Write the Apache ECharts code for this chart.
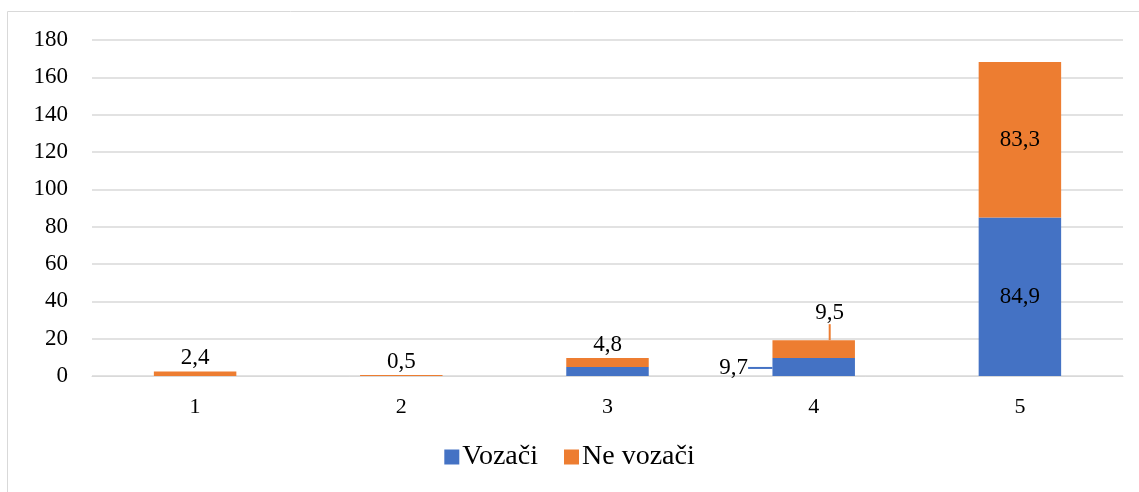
<!DOCTYPE html>
<html lang="hr">
<head>
    <meta charset="UTF-8">
    <title>vozaci</title>
    <style>
        html, body { margin: 0; padding: 0; background: #fff; }
        #main { width: 1139px; height: 492px; }
    </style>
</head>
<body>
    <div id="main"></div>
</body>
<script src="https://cdn.jsdelivr.net/npm/echarts@6/dist/echarts.min.js"></script>
<script>
    var categories = ['1', '2', '3', '4', '5']
    var vozaci = [0, 0, 4.8, 9.7, 84.9]
    var neVozaci = [2.4, 0.5, 4.8, 9.5, 83.3]
    var yTicks = [0, 20, 40, 60, 80, 100, 120, 140, 160, 180]

    var font = '"Liberation Serif", "Times New Roman", serif'
    function fmt(p) { return String(p.value).replace('.', ',') }

    var main = echarts.init(document.getElementById('main'))

    var blueData = vozaci.map(function (v, i) {
        if (i < 3) return { value: v, label: { show: false } }
        if (i === 3) return { value: v, labelLine: { show: true } }
        return v
    })
    var orangeData = neVozaci.map(function (v, i) {
        if (i === 3) return { value: v, labelLine: { show: true } }
        if (i === 4) return { value: v, label: { position: 'inside' } }
        return v
    })

    var option = {
        animation: false,
        textStyle: { fontFamily: font },
        graphic: [{
            type: 'rect',
            shape: { x: 7.5, y: 11.5, width: 1200, height: 600 },
            style: { fill: 'none', stroke: '#d9d9d9', lineWidth: 1 },
            silent: true
        }],
        grid: { left: 92, right: 16, top: 40, bottom: 116 },
        legend: {
            bottom: 16,
            left: 'center',
            itemWidth: 15,
            itemHeight: 15,
            itemGap: 26,
            icon: 'rect',
            textStyle: { fontFamily: font, fontSize: 28, color: '#000', padding: [0, 0, 0, -2] },
            data: ['Vozači', 'Ne vozači']
        },
        xAxis: {
            type: 'category',
            data: categories,
            axisLine: { lineStyle: { color: '#d9d9d9' } },
            axisTick: { show: false },
            axisLabel: { color: '#000', fontSize: 22, fontFamily: font, margin: 20 }
        },
        yAxis: {
            type: 'value',
            min: yTicks[0],
            max: yTicks[yTicks.length - 1],
            interval: 20,
            axisLine: { show: false },
            axisTick: { show: false },
            splitLine: { lineStyle: { color: '#d9d9d9', width: 1.5 } },
            axisLabel: { color: '#000', fontSize: 23, fontFamily: font, margin: 24 }
        },
        series: [
            {
                name: 'Vozači',
                type: 'bar',
                stack: 'a',
                barWidth: '40%',
                itemStyle: { color: '#4472C4' },
                label: {
                    show: true,
                    position: 'inside',
                    color: '#000',
                    fontSize: 23,
                    fontFamily: font,
                    formatter: fmt
                },
                labelLine: { show: false, lineStyle: { color: '#4472C4', width: 2 } },
                labelLayout: function (p) {
                    if (p.dataIndex === 3) return { dx: -80, dy: 1 }
                    return {}
                },
                data: blueData
            },
            {
                name: 'Ne vozači',
                type: 'bar',
                stack: 'a',
                barWidth: '40%',
                itemStyle: { color: '#ED7D31' },
                label: {
                    show: true,
                    position: 'top',
                    distance: 2,
                    color: '#000',
                    fontSize: 23,
                    fontFamily: font,
                    formatter: fmt
                },
                labelLine: { show: false, lineStyle: { color: '#ED7D31', width: 2 } },
                labelLayout: function (p) {
                    if (p.dataIndex === 3) return { dx: 16, dy: -14 }
                    return {}
                },
                data: orangeData
            }
        ]
    }
    main.setOption(option)
</script>
</html>
